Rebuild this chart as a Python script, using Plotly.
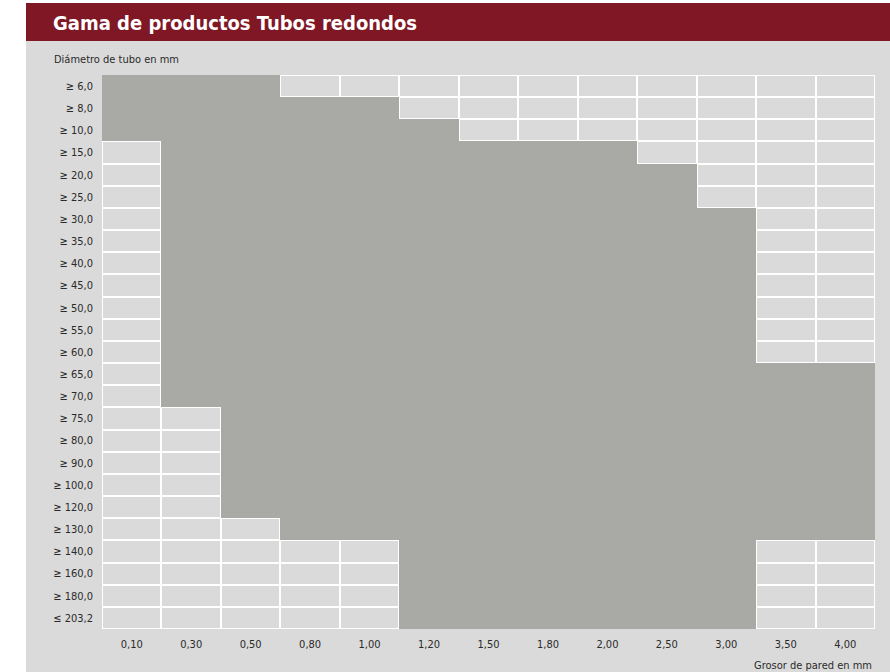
import plotly.graph_objects as go

# Wall thickness (mm) columns and tube diameter (mm) rows
wall_thickness = ["0,10", "0,30", "0,50", "0,80", "1,00", "1,20", "1,50",
                  "1,80", "2,00", "2,50", "3,00", "3,50", "4,00"]
diameters = ["≥ 6,0", "≥ 8,0", "≥ 10,0", "≥ 15,0", "≥ 20,0", "≥ 25,0",
             "≥ 30,0", "≥ 35,0", "≥ 40,0", "≥ 45,0", "≥ 50,0", "≥ 55,0",
             "≥ 60,0", "≥ 65,0", "≥ 70,0", "≥ 75,0", "≥ 80,0", "≥ 90,0",
             "≥ 100,0", "≥ 120,0", "≥ 130,0", "≥ 140,0", "≥ 160,0",
             "≥ 180,0", "≤ 203,2"]

# Available wall-thickness range per diameter row
min_wall = ["0,10", "0,10", "0,10", "0,30", "0,30", "0,30",
            "0,30", "0,30", "0,30", "0,30", "0,30", "0,30",
            "0,30", "0,30", "0,30", "0,50", "0,50", "0,50",
            "0,50", "0,50", "0,80", "1,20", "1,20", "1,20", "1,20"]
max_wall = ["0,50", "1,00", "1,20", "2,00", "2,50", "2,50",
            "3,00", "3,00", "3,00", "3,00", "3,00", "3,00",
            "3,00", "4,00", "4,00", "4,00", "4,00", "4,00",
            "4,00", "4,00", "4,00", "3,00", "3,00", "3,00", "3,00"]

n_rows = len(diameters)

z_bg = [[0 for _ in wall_thickness] for _ in diameters]
z_fill = []
for lo, hi in zip(min_wall, max_wall):
    i0, i1 = wall_thickness.index(lo), wall_thickness.index(hi)
    z_fill.append([1 if i0 <= j <= i1 else None for j in range(len(wall_thickness))])

BG = "#dadada"
FILL = "#a9aaa5"
RED = "#7f1725"
TXT = "#2a2a2a"
FONT = "Liberation Sans Narrow, DejaVu Sans Condensed, Arial Narrow, sans-serif"

fig = go.Figure()
fig.add_trace(go.Heatmap(
    x=wall_thickness, y=diameters, z=z_bg,
    colorscale=[[0, BG], [1, BG]], showscale=False,
    xgap=2, ygap=2, hoverinfo="skip"))
fig.add_trace(go.Heatmap(
    x=wall_thickness, y=diameters, z=z_fill,
    colorscale=[[0, FILL], [1, FILL]], showscale=False,
    hovertemplate="Diámetro %{y}<br>Grosor %{x} mm<extra></extra>"))

W, H = 890, 672
L, R, T, B = 102, 15, 75, 43
pw, ph = W - L - R, H - T - B

def px(x):
    return (x - L) / pw

def py(y):
    return (H - B - y) / ph

# white strips at left and top edge (paper background is the grey panel)
fig.add_shape(type="rect", xref="paper", yref="paper", layer="below",
              x0=px(0), x1=px(26), y0=py(672), y1=py(0),
              fillcolor="white", line_width=0)
fig.add_shape(type="rect", xref="paper", yref="paper", layer="below",
              x0=px(0), x1=px(890), y0=py(3), y1=py(0),
              fillcolor="white", line_width=0)
fig.add_shape(type="rect", xref="paper", yref="paper", layer="above",
              x0=px(26), x1=px(890), y0=py(41), y1=py(3),
              fillcolor=RED, line_width=0)

fig.add_annotation(xref="paper", yref="paper", x=px(51), y=py(23),
                   xanchor="left", yanchor="middle", showarrow=False,
                   text="<b>Gama de productos Tubos redondos</b>",
                   font=dict(family=FONT, size=20, color="white"))
fig.add_annotation(xref="paper", yref="paper", x=px(52), y=py(59),
                   xanchor="left", yanchor="middle", showarrow=False,
                   text="Diámetro de tubo en mm",
                   font=dict(family=FONT, size=11, color=TXT))
fig.add_annotation(xref="paper", yref="paper", x=px(874), y=py(665),
                   xanchor="right", yanchor="middle", showarrow=False,
                   text="Grosor de pared en mm",
                   font=dict(family=FONT, size=11, color=TXT))

fig.update_layout(
    width=W, height=H,
    margin=dict(l=L, r=R, t=T, b=B, pad=0),
    paper_bgcolor=BG, plot_bgcolor="white",
    showlegend=False,
    font=dict(family=FONT, size=11, color=TXT),
)
fig.update_xaxes(type="category", showgrid=False, zeroline=False,
                 showline=False, ticks="", ticklabelstandoff=7,
                 tickfont=dict(family=FONT, size=11, color=TXT),
                 range=[-0.5, len(wall_thickness) - 0.5], fixedrange=True)
fig.update_yaxes(type="category", showgrid=False, zeroline=False,
                 showline=False, ticks="", ticklabelstandoff=8,
                 tickfont=dict(family=FONT, size=11, color=TXT),
                 range=[n_rows - 0.5, -0.5], fixedrange=True)

fig.write_html("out.html", config={"displayModeBar": False},
               post_script="document.body.style.margin='0';document.body.style.padding='0';")
